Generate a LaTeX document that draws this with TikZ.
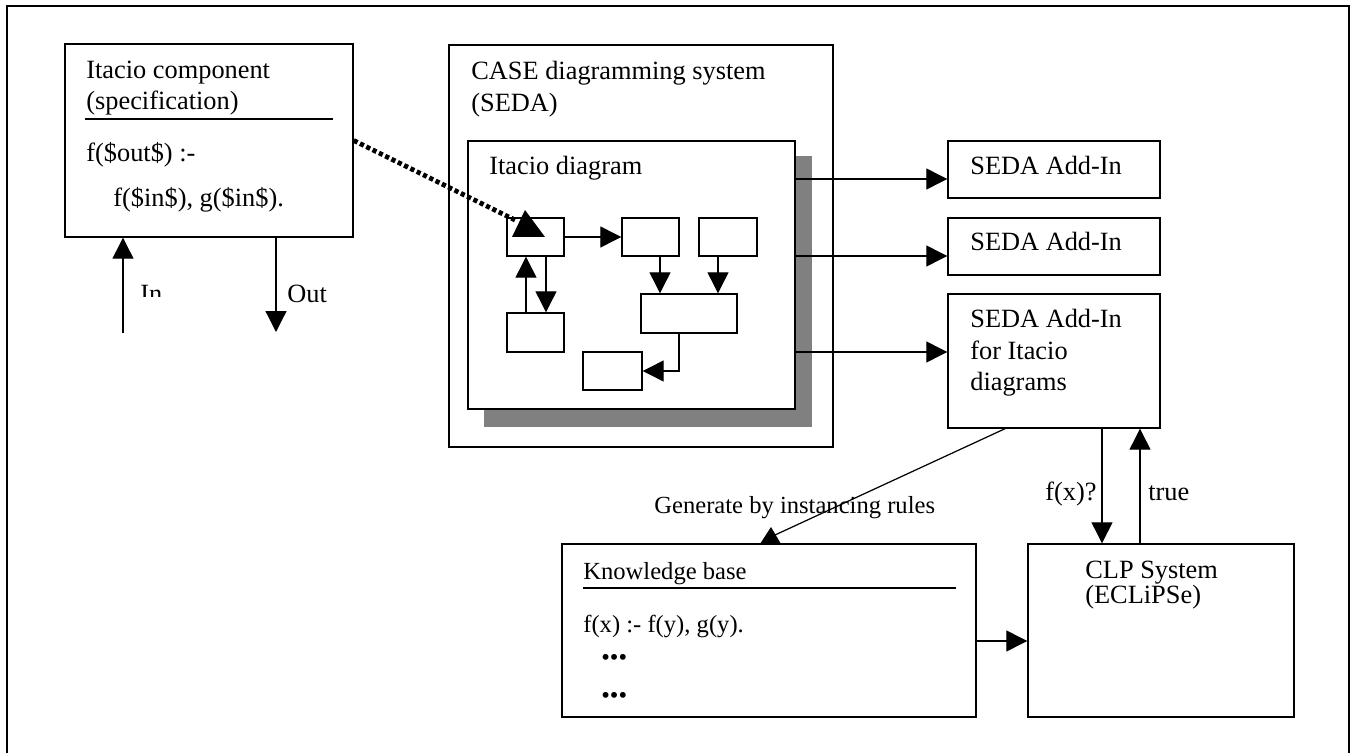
\documentclass[tikz,border=0pt]{standalone}
\usepackage{fontspec}
\setmainfont{Liberation Serif}
\usetikzlibrary{arrows.meta,calc,fit}
\newcommand{\mainfs}{\fontsize{15}{17.6}\selectfont}
\newcommand{\kbfs}{\fontsize{14}{17.6}\selectfont}

\begin{document}
\begin{tikzpicture}[
  x=0.02cm, y=-0.02cm,
  box/.style = {draw, line width=0.8pt, inner sep=0pt, fit={#1}},
  lbl/.style = {anchor=base west, inner sep=0pt, font=\mainfs},
  arr/.style = {line width=0.7pt, -{Triangle[length=0.42cm,width=0.42cm]}},
  dots/.style = {line width=2.7pt, dash pattern=on 2.4pt off 1.6pt},
  shadow/.style = {fill=black!50}
  ]
  \useasboundingbox (0,0) rectangle (1356,753);
  \draw[line width=0.9pt] (7,753) -- (7,6) -- (1349,6) -- (1349,753);
  % component specification
  \node[box={(65,44) (353,237)}] (comp) {};
  \node[lbl] (compA) at (86,79) {Itacio component};
  \node[lbl] (compB) at (86,110) {(specification)};
  \draw[line width=0.9pt] (85,119) -- (333,119);
  \node[lbl] (compC) at (86,162) {f(\$out\$) :-};
  \node[lbl] (compD) at (113,207) {f(\$in\$), g(\$in\$).};
  \coordinate (inS) at (123,333);
  \coordinate (outE) at (276,332);
  \draw[arr] (inS) -- (inS |- comp.south);
  \draw[arr] (outE |- comp.south) -- (outE);
  \begin{scope}
    \clip (130,270) rectangle (180,297);
    \node[lbl] (inL) at (140,302) {In};
  \end{scope}
  \node[lbl] (outL) at (287,302) {Out};
  % CASE system
  \node[box={(449,45) (833,447)}] (case) {};
  \node[lbl] (caseA) at (471,80) {CASE diagramming system};
  \node[lbl] (caseB) at (471,112) {(SEDA)};
  \fill[shadow] (484,156) rectangle (812,427);
  \node[box={(468,141) (795,409)}, fill=white] (diag) {};
  \node[lbl] (diagA) at (489,175) {Itacio diagram};
  \foreach \n/\a/\b/\c/\d in {b1/507/218/564/256, b2/622/218/679/256,
      b3/699/218/757/256, b4/507/313/564/352, b5/641/294/737/333,
      b6/583/352/642/390} {
    \node[box={(\a,\b) (\c,\d)}] (\n) {};
  }
  \draw[arr] (b1) -- (b2);
  \draw[arr] ($(b4.north)+(-9.5,0)$) -- ($(b1.south)+(-9.5,0)$);
  \draw[arr] ($(b1.south)+(10.5,0)$) -- ($(b4.north)+(10.5,0)$);
  \coordinate (p2) at ($(b2.south)+(9.5,0)$);
  \coordinate (p3) at ($(b3.south)+(-10,0)$);
  \draw[arr] (p2) -- (p2 |- b5.north);
  \draw[arr] (p3) -- (p3 |- b5.north);
  \draw[arr] ($(b5.south)+(-10,0)$) |- (b6.east);
  % add-ins
  \node[box={(948,141) (1160,198)}] (add1) {};
  \node[box={(948,218) (1160,275)}] (add2) {};
  \node[box={(948,294) (1160,428)}] (add3) {};
  \node[lbl] (add1A) at (970,175) {SEDA Add-In};
  \node[lbl] (add2A) at (970,251) {SEDA Add-In};
  \node[lbl] (add3A) at (970,328) {SEDA Add-In};
  \node[lbl] (add3B) at (970,359) {for Itacio};
  \node[lbl] (add3C) at (970,390) {diagrams};
  \coordinate (a1) at ($(add1.west)+(0,9.5)$);
  \coordinate (a2) at ($(add2.west)+(0,9.5)$);
  \coordinate (a3) at ($(add3.west)+(0,-9)$);
  \foreach \a in {a1,a2,a3}
    \draw[arr] (diag.east |- \a) -- (\a);
  % dotted link
  \coordinate (dotE) at (515,220);
  \draw[dots] (comp.east) -- (dotE);
  \fill (512,237) -- (525,210) -- (545,237) -- cycle;
  % knowledge base and CLP
  \node[box={(562,544) (976,717)}] (kb) {};
  \node[lbl,font=\kbfs] (kbA) at (583,579) {Knowledge base};
  \draw[line width=0.9pt] (583,588) -- (956,588);
  \node[lbl,font=\kbfs] (kbB) at (583,632) {f(x) :- f(y), g(y).};
  \node[lbl,font=\kbfs] (kbC) at (601,665) {•••};
  \node[lbl,font=\kbfs] (kbD) at (601,703) {•••};
  \node[box={(1028,544) (1294,717)}] (clp) {};
  \node[lbl] (clpA) at (1085,578) {CLP System};
  \node[lbl] (clpB) at (1085,603) {(ECLiPSe)};
  \coordinate (k) at ($(kb.east)+(0,10.5)$);
  \draw[arr] (k) -- (k -| clp.west);
  \coordinate (q) at ($(add3.south)+(48,0)$);
  \coordinate (r) at ($(add3.south)+(86,0)$);
  \draw[arr] (q) -- (q |- clp.north);
  \draw[arr] (r |- clp.north) -- (r);
  \node[lbl] (qL) at (1045,500) {f(x)?};
  \node[lbl] (rL) at (1148,500) {true};
  \node[lbl,font=\kbfs] (gen) at (654,513) {Generate by instancing rules};
  \coordinate (genE) at (775,535);
  \draw[line width=0.7pt] ($(add3.south)+(-49,0)$) -- (genE);
  \fill (760,544) -- (771,527) -- (781,544) -- cycle;
\end{tikzpicture}
\end{document}
